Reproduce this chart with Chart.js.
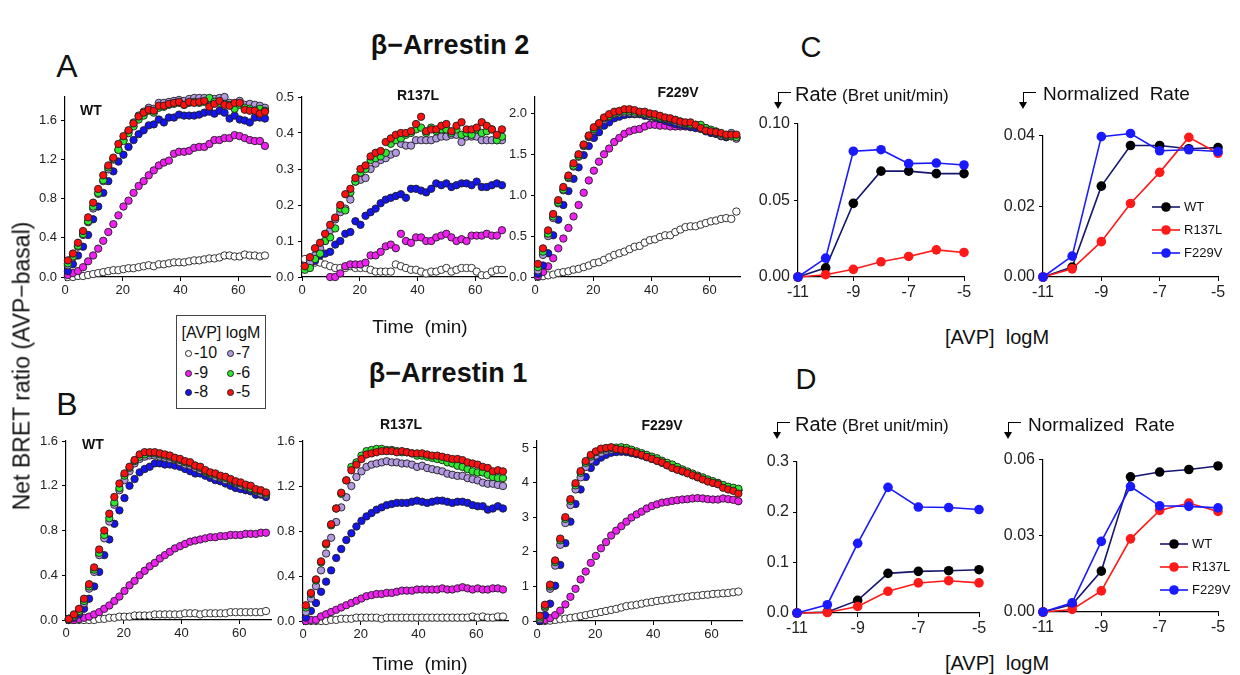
<!doctype html>
<html><head><meta charset="utf-8"><title>BRET time courses and rates</title>
<script src="https://cdn.jsdelivr.net/npm/chart.js@4.4.1/dist/chart.umd.min.js"></script>
<style>
body{margin:0;width:1240px;height:675px;position:relative;background:#fff;overflow:hidden;font-family:"Liberation Sans",Arial,sans-serif;color:#111}
canvas{position:absolute}
.t{position:absolute;white-space:nowrap;line-height:1}
.c{transform:translate(-50%,-50%)}
.arrow{position:absolute;border-left:1.5px solid #000;border-top:1.5px solid #000;width:12px;height:11px}
.arrow:after{content:"";position:absolute;left:-5px;top:9px;border-left:4px solid transparent;border-right:4px solid transparent;border-top:7px solid #000}
#avp{position:absolute;border:1px solid #444;background:#fff}
.dot{position:absolute;width:5px;height:5px;border-radius:50%;border:1px solid #222}
</style></head><body>
<script>
// time points (min), one reading every ~1.75 min
const times = [1,2.75,4.5,6.25,8,9.75,11.5,13.25,15,16.75,18.5,20.25,22,23.75,25.5,27.25,29,30.75,32.5,34.25,36,37.75,39.5,41.25,43,44.75,46.5,48.25,50,51.75,53.5,55.25,57,58.75,60.5,62.25,64,65.75,67.5,69.25];
const timeTicks = [0,20,40,60];

// beta-arrestin 2, WT
const a2WT_m5  = [0.17,0.24,0.35,0.47,0.61,0.76,0.90,1.04,1.14,1.22,1.36,1.44,1.50,1.57,1.64,1.68,1.71,1.70,1.75,1.75,1.77,1.78,1.79,1.76,1.79,1.78,1.79,1.80,1.74,1.77,1.80,1.76,1.75,1.78,1.78,1.71,1.70,1.70,1.67,1.69];
const a2WT_m6  = [0.14,0.21,0.32,0.44,0.57,0.72,0.86,0.99,1.12,1.21,1.30,1.39,1.47,1.54,1.61,1.65,1.70,1.68,1.73,1.74,1.76,1.77,1.78,1.76,1.78,1.79,1.78,1.79,1.83,1.79,1.78,1.77,1.76,1.72,1.76,1.73,1.72,1.70,1.72,1.70];
const a2WT_m7  = [0.12,0.20,0.31,0.43,0.56,0.70,0.85,0.98,1.10,1.20,1.30,1.40,1.49,1.58,1.65,1.69,1.73,1.72,1.78,1.78,1.79,1.80,1.81,1.80,1.82,1.83,1.83,1.83,1.82,1.82,1.83,1.84,1.78,1.77,1.80,1.76,1.77,1.76,1.75,1.73];
const a2WT_m8  = [0.06,0.13,0.22,0.31,0.43,0.59,0.72,0.86,0.98,1.08,1.18,1.25,1.33,1.40,1.46,1.50,1.55,1.56,1.61,1.58,1.63,1.63,1.66,1.65,1.65,1.65,1.66,1.68,1.69,1.67,1.70,1.68,1.62,1.65,1.61,1.60,1.58,1.63,1.63,1.62];
const a2WT_m9  = [0.02,0.04,0.06,0.10,0.16,0.22,0.29,0.37,0.46,0.54,0.63,0.72,0.78,0.86,0.93,0.98,1.04,1.09,1.14,1.17,1.19,1.26,1.28,1.28,1.29,1.32,1.33,1.33,1.36,1.40,1.40,1.42,1.42,1.45,1.44,1.42,1.40,1.39,1.39,1.34];
const a2WT_m10 = [0.00,0.00,0.01,0.01,0.02,0.03,0.04,0.05,0.06,0.07,0.07,0.08,0.09,0.09,0.10,0.11,0.12,0.11,0.13,0.13,0.14,0.15,0.15,0.15,0.16,0.17,0.17,0.18,0.19,0.19,0.20,0.22,0.22,0.21,0.21,0.23,0.22,0.22,0.21,0.22];

// beta-arrestin 2, R137L
const a2R_m5  = [0.03,0.055,0.08,0.095,0.12,0.145,0.165,0.20,0.23,0.245,0.275,0.30,0.31,0.335,0.345,0.35,0.375,0.385,0.395,0.40,0.40,0.405,0.425,0.445,0.405,0.41,0.41,0.42,0.425,0.405,0.42,0.43,0.41,0.41,0.415,0.43,0.42,0.41,0.395,0.41];
const a2R_m6  = [0.02,0.025,0.05,0.065,0.10,0.11,0.135,0.19,0.185,0.235,0.265,0.29,0.30,0.325,0.33,0.335,0.345,0.37,0.38,0.385,0.395,0.40,0.41,0.415,0.40,0.415,0.405,0.41,0.41,0.40,0.41,0.395,0.40,0.395,0.41,0.40,0.405,0.41,0.38,0.39];
const a2R_m7  = [0.03,0.04,0.06,0.08,0.10,0.13,0.16,0.18,0.19,0.215,0.265,0.27,0.275,0.30,0.315,0.325,0.33,0.34,0.345,0.37,0.365,0.365,0.38,0.38,0.38,0.38,0.385,0.39,0.39,0.395,0.395,0.375,0.39,0.39,0.39,0.38,0.38,0.38,0.38,0.38];
const a2R_m8  = [0.03,0.035,0.045,0.06,0.065,0.07,0.09,0.10,0.12,0.125,0.155,0.145,0.17,0.18,0.19,0.205,0.215,0.22,0.225,0.23,0.22,0.245,0.245,0.24,0.235,0.245,0.26,0.255,0.26,0.25,0.255,0.26,0.26,0.255,0.265,0.25,0.25,0.255,0.26,0.255];
const a2R_m9  = [null,null,null,null,null,0.0,0.0,0.01,0.03,0.035,0.035,0.035,0.04,0.06,0.06,0.07,0.085,0.09,0.08,0.12,0.10,0.095,0.11,0.11,0.10,0.10,0.11,0.115,0.12,0.11,0.10,0.105,0.10,0.115,0.115,0.115,0.12,0.115,0.115,0.13];
const a2R_m10 = [0.05,0.045,0.04,0.04,0.035,0.03,0.025,0.025,0.025,0.03,0.025,0.025,0.025,0.02,0.015,0.015,0.015,0.015,0.035,0.03,0.025,0.02,0.02,0.015,0.01,0.015,0.015,0.02,0.025,0.015,0.02,0.025,0.025,0.025,0.015,0.005,0.005,0.015,0.02,0.02];

// beta-arrestin 2, F229V
const a2F_m5  = [0.16,0.35,0.57,0.77,0.94,1.10,1.24,1.39,1.50,1.62,1.73,1.83,1.88,1.95,1.99,2.02,2.03,2.05,2.05,2.04,2.02,2.02,2.00,1.99,1.97,1.95,1.94,1.92,1.90,1.89,1.89,1.86,1.82,1.79,1.78,1.77,1.76,1.74,1.74,1.74];
const a2F_m6  = [0.12,0.31,0.53,0.74,0.91,1.07,1.22,1.36,1.48,1.61,1.72,1.81,1.87,1.94,1.97,2.00,2.02,2.03,2.03,2.02,2.01,2.00,1.99,1.97,1.95,1.94,1.93,1.92,1.90,1.88,1.87,1.86,1.86,1.82,1.80,1.78,1.75,1.73,1.72,1.71];
const a2F_m7  = [0.08,0.27,0.50,0.72,0.90,1.06,1.21,1.35,1.47,1.60,1.71,1.80,1.86,1.92,1.96,1.99,2.00,2.01,2.01,2.00,2.00,1.99,1.97,1.96,1.95,1.93,1.92,1.90,1.88,1.87,1.86,1.85,1.84,1.82,1.78,1.76,1.73,1.72,1.76,1.69];
const a2F_m8  = [0.04,0.14,0.29,0.51,0.70,0.88,1.05,1.20,1.34,1.49,1.60,1.70,1.77,1.85,1.89,1.94,1.96,1.98,1.99,1.99,1.99,1.97,1.96,1.95,1.93,1.91,1.89,1.87,1.86,1.85,1.84,1.82,1.81,1.78,1.76,1.75,1.73,1.71,1.73,1.71];
const a2F_m9  = [0.01,0.06,0.13,0.23,0.35,0.47,0.60,0.74,0.88,1.03,1.18,1.30,1.41,1.50,1.57,1.65,1.70,1.75,1.78,1.80,1.81,1.84,1.86,1.86,1.85,1.85,1.84,1.84,1.84,1.84,1.83,1.83,1.82,1.79,1.77,1.75,1.72,1.71,1.72,1.70];
const a2F_m10 = [0.00,0.01,0.02,0.03,0.05,0.06,0.07,0.09,0.10,0.12,0.14,0.17,0.18,0.21,0.24,0.27,0.29,0.31,0.34,0.37,0.38,0.42,0.45,0.46,0.49,0.51,0.51,0.55,0.58,0.61,0.62,0.62,0.64,0.66,0.68,0.69,0.71,0.72,0.71,0.80];

// beta-arrestin 1, WT
const a1WT_m5  = [0.01,0.05,0.10,0.19,0.32,0.47,0.63,0.80,0.95,1.10,1.22,1.31,1.37,1.43,1.48,1.50,1.50,1.50,1.49,1.48,1.47,1.45,1.44,1.42,1.41,1.38,1.37,1.34,1.32,1.31,1.29,1.28,1.26,1.24,1.23,1.21,1.20,1.17,1.16,1.14];
const a1WT_m6  = [0.01,0.04,0.08,0.17,0.30,0.45,0.60,0.76,0.91,1.05,1.18,1.29,1.36,1.42,1.46,1.48,1.49,1.49,1.48,1.47,1.46,1.44,1.43,1.41,1.40,1.38,1.36,1.33,1.31,1.30,1.28,1.27,1.25,1.23,1.22,1.20,1.18,1.16,1.15,1.13];
const a1WT_m7  = [0.01,0.03,0.07,0.15,0.28,0.43,0.58,0.73,0.88,1.03,1.16,1.25,1.33,1.40,1.44,1.46,1.47,1.47,1.46,1.45,1.44,1.43,1.41,1.39,1.38,1.36,1.34,1.32,1.30,1.28,1.27,1.25,1.24,1.22,1.20,1.19,1.17,1.15,1.13,1.12];
const a1WT_m8  = [0.01,0.02,0.05,0.10,0.19,0.30,0.43,0.58,0.72,0.86,0.98,1.09,1.20,1.26,1.32,1.35,1.37,1.40,1.40,1.39,1.39,1.38,1.37,1.35,1.33,1.31,1.31,1.29,1.27,1.25,1.24,1.22,1.20,1.18,1.17,1.16,1.15,1.12,1.12,1.10];
const a1WT_m9  = [0.00,0.00,0.01,0.02,0.03,0.05,0.07,0.10,0.13,0.17,0.21,0.26,0.31,0.35,0.40,0.44,0.48,0.51,0.55,0.58,0.61,0.64,0.66,0.68,0.70,0.71,0.72,0.73,0.74,0.74,0.75,0.75,0.76,0.76,0.76,0.77,0.77,0.77,0.78,0.78];
const a1WT_m10 = [0.00,0.00,0.00,0.00,0.00,0.00,0.01,0.01,0.02,0.02,0.03,0.03,0.03,0.04,0.04,0.04,0.04,0.05,0.05,0.05,0.05,0.05,0.05,0.06,0.06,0.06,0.05,0.06,0.06,0.06,0.06,0.06,0.07,0.07,0.07,0.07,0.07,0.07,0.07,0.08];

// beta-arrestin 1, R137L
const a1R_m5  = [0.14,0.25,0.37,0.53,0.69,0.86,1.00,1.14,1.25,1.34,1.39,1.44,1.48,1.49,1.50,1.51,1.51,1.51,1.50,1.51,1.50,1.49,1.49,1.49,1.48,1.47,1.47,1.46,1.45,1.44,1.44,1.43,1.41,1.40,1.39,1.37,1.36,1.33,1.34,1.33];
const a1R_m6  = [0.12,0.24,0.36,0.52,0.68,0.85,1.00,1.13,1.25,1.37,1.41,1.47,1.51,1.52,1.53,1.53,1.52,1.52,1.51,1.50,1.50,1.49,1.47,1.47,1.46,1.45,1.44,1.43,1.41,1.40,1.38,1.37,1.35,1.33,1.32,1.32,1.30,1.28,1.27,1.27];
const a1R_m7  = [0.08,0.20,0.31,0.45,0.60,0.74,0.88,1.01,1.10,1.20,1.28,1.33,1.37,1.39,1.40,1.41,1.42,1.41,1.41,1.40,1.40,1.39,1.37,1.38,1.36,1.35,1.34,1.33,1.31,1.30,1.29,1.29,1.27,1.26,1.25,1.23,1.22,1.22,1.21,1.20];
const a1R_m8  = [0.03,0.09,0.16,0.26,0.35,0.45,0.56,0.64,0.72,0.78,0.84,0.89,0.93,0.96,0.99,1.01,1.03,1.04,1.05,1.05,1.05,1.06,1.07,1.06,1.05,1.06,1.07,1.07,1.06,1.05,1.06,1.06,1.05,1.03,1.02,1.02,0.99,1.00,1.02,1.00];
const a1R_m9  = [0.00,0.01,0.01,0.04,0.06,0.08,0.10,0.12,0.14,0.16,0.18,0.20,0.22,0.23,0.24,0.24,0.25,0.25,0.26,0.27,0.27,0.27,0.28,0.28,0.28,0.28,0.28,0.29,0.28,0.28,0.29,0.30,0.29,0.28,0.29,0.28,0.28,0.29,0.29,0.28];
const a1R_m10 = [0.00,0.00,0.00,0.00,0.00,0.01,0.01,0.02,0.02,0.02,0.03,0.03,0.03,0.03,0.03,0.02,0.03,0.03,0.03,0.03,0.03,0.03,0.03,0.03,0.03,0.03,0.03,0.03,0.03,0.03,0.03,0.03,0.03,0.04,0.03,0.04,0.03,0.03,0.04,0.04];

// beta-arrestin 1, F229V
const a1F_m5  = [0.15,0.47,1.05,1.75,2.38,3.00,3.52,3.98,4.33,4.62,4.80,4.90,4.98,5.00,5.02,4.97,4.95,4.93,4.89,4.85,4.80,4.74,4.69,4.63,4.58,4.50,4.42,4.37,4.33,4.27,4.21,4.16,4.09,4.03,3.99,3.95,3.85,3.80,3.76,3.68];
const a1F_m6  = [0.10,0.42,1.00,1.70,2.33,2.95,3.47,3.92,4.28,4.57,4.75,4.88,4.95,4.98,5.00,5.01,5.02,5.00,4.95,4.90,4.85,4.80,4.75,4.70,4.63,4.57,4.52,4.45,4.38,4.32,4.26,4.20,4.15,4.09,4.04,3.99,3.93,3.88,3.85,3.82];
const a1F_m7  = [0.05,0.38,0.93,1.60,2.20,2.83,3.35,3.80,4.15,4.45,4.65,4.78,4.86,4.92,4.95,4.96,4.95,4.93,4.90,4.85,4.80,4.75,4.70,4.65,4.58,4.53,4.47,4.41,4.35,4.29,4.24,4.18,4.12,4.06,4.01,3.97,3.90,3.85,3.82,3.78];
const a1F_m8  = [0.00,0.17,0.50,1.02,1.62,2.25,2.87,3.38,3.80,4.16,4.42,4.60,4.72,4.80,4.86,4.88,4.89,4.88,4.85,4.82,4.78,4.73,4.68,4.63,4.57,4.50,4.44,4.38,4.32,4.27,4.21,4.15,4.10,4.05,4.00,3.96,3.90,3.86,3.82,3.78];
const a1F_m9  = [0.00,0.03,0.08,0.17,0.30,0.48,0.70,0.93,1.20,1.43,1.68,1.88,2.10,2.28,2.47,2.61,2.74,2.87,2.99,3.08,3.16,3.25,3.32,3.37,3.42,3.44,3.47,3.49,3.51,3.52,3.54,3.55,3.54,3.52,3.51,3.51,3.54,3.52,3.50,3.46];
const a1F_m10 = [0.00,0.00,0.01,0.03,0.05,0.07,0.09,0.11,0.14,0.17,0.20,0.23,0.26,0.29,0.32,0.35,0.39,0.43,0.45,0.47,0.50,0.53,0.55,0.58,0.60,0.62,0.64,0.66,0.68,0.70,0.72,0.73,0.75,0.76,0.78,0.79,0.80,0.81,0.83,0.85];

// dose-response: [AVP] logM
const doses = [-11,-10,-9,-8,-7,-6,-5];
const doseTicks = [-11,-9,-7,-5];
const cRate_WT    = [0,0.006,0.048,0.069,0.069,0.0674,0.0674];
const cRate_R137L = [0,0.0015,0.005,0.0099,0.0134,0.0177,0.016];
const cRate_F229V = [0,0.0123,0.082,0.083,0.0739,0.0743,0.073];
const cNorm_WT    = [0,0.0028,0.0257,0.0372,0.0372,0.0363,0.0366];
const cNorm_R137L = [0,0.0023,0.010,0.0208,0.0296,0.0395,0.035];
const cNorm_F229V = [0,0.0059,0.0397,0.0406,0.0357,0.036,0.0355];
const dRate_WT    = [0,0.002,0.025,0.0786,0.0825,0.0838,0.0858];
const dRate_R137L = [0,0.001,0.013,0.043,0.0596,0.064,0.0596];
const dRate_F229V = [0,0.0164,0.138,0.249,0.210,0.209,0.205];
const dNorm_WT    = [0,0.0029,0.0161,0.0532,0.0551,0.0561,0.0575];
const dNorm_R137L = [0,0.001,0.0083,0.0288,0.040,0.0429,0.0396];
const dNorm_F229V = [0,0.0036,0.0278,0.0494,0.0418,0.0416,0.041];

const doseColors = ['#ff1010','#2ee82e','#b399e0','#1414f0','#f020f0','#ffffff']; // -5 .. -10
const mutColors = { WT: '#000000', R137L: '#ff1a1a', F229V: '#1a1aff' };
const mutLine = { WT: '#16166e', R137L: '#ff1a1a', F229V: '#1a1aff' };

const PAD_L = 52, PAD_R = 14, PAD_T = 12, PAD_B = 32;
Chart.defaults.font.family = '"Liberation Sans", Arial, sans-serif';
Chart.defaults.animation = false;

function makeCanvas(g) {
  const c = document.createElement('canvas');
  const W = (g.r - g.l) + PAD_L + PAD_R, H = (g.b - g.t) + PAD_T + PAD_B;
  c.width = W; c.height = H;
  c.style.left = (g.l - PAD_L) + 'px'; c.style.top = (g.t - PAD_T) + 'px';
  c.style.width = W + 'px'; c.style.height = H + 'px';
  document.body.appendChild(c);
  return c;
}

function axis(min, max, ticks, dec, isX, fs) {
  return {
    type: 'linear', min, max,
    afterBuildTicks: s => { s.ticks = ticks.map(v => ({ value: v })); },
    afterFit: s => { if (isX) s.height = PAD_B; else s.width = PAD_L; },
    grid: { drawOnChartArea: false, drawTicks: true, tickLength: 4, color: '#000', lineWidth: 1 },
    border: { display: true, color: '#000', width: 1.2 },
    ticks: { font: { size: fs }, color: '#222', padding: isX ? 2 : 4, maxRotation: 0, autoSkip: false,
             callback: v => v.toFixed(dec) }
  };
}

function timeChart(g, xMax, yMax, yTicks, yDec, series) {
  const datasets = series.map((vals, k) => ({
    data: times.map((t, i) => ({ x: t, y: vals[i] })).filter(p => p.y !== null),
    backgroundColor: doseColors[k], borderColor: '#1e1e1e', borderWidth: 0.9,
    pointRadius: 3.7, clip: false
  }));
  new Chart(makeCanvas(g), {
    type: 'scatter',
    data: { datasets },
    options: {
      responsive: false, devicePixelRatio: 1,
      layout: { padding: { left: 0, right: PAD_R, top: PAD_T, bottom: 0 } },
      plugins: { legend: { display: false }, tooltip: { enabled: false } },
      scales: { x: axis(0, xMax, timeTicks, 0, true, 13), y: axis(0, yMax, yTicks, yDec, false, 13) }
    }
  });
}

function legendPlugin(g, lg) {
  return {
    id: 'inLegend',
    afterDatasetsDraw(chart) {
      const ctx = chart.ctx, ox = g.l - PAD_L, oy = g.t - PAD_T;
      ['WT', 'R137L', 'F229V'].forEach((name, i) => {
        const y = lg.y[i] - oy;
        ctx.save();
        ctx.strokeStyle = mutLine[name]; ctx.lineWidth = 1.6;
        ctx.beginPath(); ctx.moveTo(lg.x1 - ox, y); ctx.lineTo(lg.x2 - ox, y); ctx.stroke();
        ctx.fillStyle = mutColors[name];
        ctx.beginPath(); ctx.arc((lg.x1 + lg.x2) / 2 - ox, y, 4.8, 0, Math.PI * 2); ctx.fill();
        ctx.fillStyle = '#111'; ctx.font = '13px "Liberation Sans", Arial, sans-serif';
        ctx.textBaseline = 'middle';
        ctx.fillText(name, lg.tx - ox, y + 0.5);
        ctx.restore();
      });
    }
  };
}

function doseChart(g, yMax, yTicks, yDec, wt, r137, f229, lg) {
  const mk = (name, vals) => ({
    data: doses.map((d, i) => ({ x: d, y: vals[i] })),
    showLine: true, borderColor: mutLine[name], borderWidth: 1.6,
    backgroundColor: mutColors[name], pointBorderWidth: 0, pointRadius: 4.8, clip: false
  });
  new Chart(makeCanvas(g), {
    type: 'scatter',
    data: { datasets: [mk('F229V', f229), mk('R137L', r137), mk('WT', wt)] },
    options: {
      responsive: false, devicePixelRatio: 1,
      layout: { padding: { left: 0, right: PAD_R, top: PAD_T, bottom: 0 } },
      plugins: { legend: { display: false }, tooltip: { enabled: false } },
      scales: { x: axis(-11, -5, doseTicks, 0, true, 16), y: axis(0, yMax, yTicks, yDec, false, 16) }
    },
    plugins: lg ? [legendPlugin(g, lg)] : []
  });
}

// beta-arrestin 2 row
timeChart({ l: 65, r: 270, t: 97, b: 277 }, 71, 1.84, [0, 0.4, 0.8, 1.2, 1.6], 1,
  [a2WT_m5, a2WT_m6, a2WT_m7, a2WT_m8, a2WT_m9, a2WT_m10]);
timeChart({ l: 302, r: 507, t: 97, b: 277 }, 71, 0.5, [0, 0.1, 0.2, 0.3, 0.4, 0.5], 1,
  [a2R_m5, a2R_m6, a2R_m7, a2R_m8, a2R_m9, a2R_m10]);
timeChart({ l: 535, r: 740, t: 97, b: 277 }, 70.5, 2.2, [0, 0.5, 1.0, 1.5, 2.0], 1,
  [a2F_m5, a2F_m6, a2F_m7, a2F_m8, a2F_m9, a2F_m10]);
// beta-arrestin 1 row
timeChart({ l: 66, r: 271, t: 441, b: 620 }, 71, 1.6, [0, 0.4, 0.8, 1.2, 1.6], 1,
  [a1WT_m5, a1WT_m6, a1WT_m7, a1WT_m8, a1WT_m9, a1WT_m10]);
timeChart({ l: 303, r: 508, t: 441, b: 621 }, 71, 1.6, [0, 0.4, 0.8, 1.2, 1.6], 1,
  [a1R_m5, a1R_m6, a1R_m7, a1R_m8, a1R_m9, a1R_m10]);
timeChart({ l: 537, r: 742, t: 441, b: 621 }, 70.5, 5.2, [0, 1, 2, 3, 4, 5], 0,
  [a1F_m5, a1F_m6, a1F_m7, a1F_m8, a1F_m9, a1F_m10]);

// rates
doseChart({ l: 798, r: 964, t: 122, b: 277 }, 0.1, [0, 0.05, 0.1], 2, cRate_WT, cRate_R137L, cRate_F229V);
doseChart({ l: 1043, r: 1218, t: 134, b: 277 }, 0.04, [0, 0.02, 0.04], 2, cNorm_WT, cNorm_R137L, cNorm_F229V,
  { x1: 1152, x2: 1180, tx: 1184, y: [207, 230, 253] });
doseChart({ l: 797, r: 979, t: 460, b: 613 }, 0.3, [0, 0.1, 0.2, 0.3], 1, dRate_WT, dRate_R137L, dRate_F229V);
doseChart({ l: 1043, r: 1218, t: 458, b: 612 }, 0.06, [0, 0.03, 0.06], 2, dNorm_WT, dNorm_R137L, dNorm_F229V,
  { x1: 1160, x2: 1188, tx: 1192, y: [544, 567, 590] });

// text
function txt(s, x, y, css, center) {
  const d = document.createElement('div');
  d.className = 't' + (center ? ' c' : '');
  d.textContent = s;
  d.style.cssText += 'left:' + x + 'px;top:' + y + 'px;' + (css || '');
  document.body.appendChild(d);
  return d;
}
function arrow(x, y) {
  const d = document.createElement('div');
  d.className = 'arrow';
  d.style.left = x + 'px'; d.style.top = y + 'px';
  document.body.appendChild(d);
}

txt('\u03b2\u2212Arrestin 2', 450, 45, 'font-size:27px;font-weight:bold', true);
txt('\u03b2\u2212Arrestin 1', 448, 373, 'font-size:27px;font-weight:bold', true);
txt('A', 67, 66, 'font-size:32px', true);
txt('B', 67, 404, 'font-size:32px', true);
txt('C', 811, 47, 'font-size:29px', true);
txt('D', 806, 379, 'font-size:29px', true);
txt('Net BRET ratio (AVP\u2212basal)', 22, 366, 'font-size:23px;transform:translate(-50%,-50%) rotate(-90deg)', false);
txt('Time  (min)', 420, 326, 'font-size:19px;white-space:pre', true);
txt('Time  (min)', 420, 663, 'font-size:19px;white-space:pre', true);
txt('[AVP]  logM', 997, 337, 'font-size:20px;white-space:pre', true);
txt('[AVP]  logM', 997, 663, 'font-size:20px;white-space:pre', true);

txt('WT', 91, 110, 'font-size:14px;font-weight:bold', true);
txt('R137L', 418, 95, 'font-size:14px;font-weight:bold', true);
txt('F229V', 678, 92, 'font-size:14px;font-weight:bold', true);
txt('WT', 93, 444, 'font-size:14px;font-weight:bold', true);
txt('R137L', 401, 424, 'font-size:14px;font-weight:bold', true);
txt('F229V', 662, 425, 'font-size:14px;font-weight:bold', true);

arrow(778, 92);
txt('Rate', 795, 94, 'font-size:20px;transform:translateY(-50%)');
txt('(Bret unit/min)', 842, 95, 'font-size:17px;transform:translateY(-50%)');
arrow(1023, 92);
txt('Normalized  Rate', 1043, 93, 'font-size:19px;white-space:pre;transform:translateY(-50%)');
arrow(777, 422);
txt('Rate', 795, 424, 'font-size:20px;transform:translateY(-50%)');
txt('(Bret unit/min)', 842, 425, 'font-size:17px;transform:translateY(-50%)');
arrow(1008, 422);
txt('Normalized  Rate', 1028, 424, 'font-size:19px;white-space:pre;transform:translateY(-50%)');

// concentration key
const box = document.createElement('div');
box.id = 'avp';
box.style.cssText = 'left:176px;top:315px;width:88px;height:92px';
document.body.appendChild(box);
txt('[AVP] logM', 221, 333, 'font-size:16px', true);
const keyRows = [['-10', '-7'], ['-9', '-6'], ['-8', '-5']];
const keyCol = [['#ffffff', '#b399e0'], ['#f020f0', '#2ee82e'], ['#1414f0', '#ff1010']];
keyRows.forEach((row, r) => {
  row.forEach((lab, c) => {
    const x = c === 0 ? 188 : 230, y = 353 + r * 19.5;
    const d = document.createElement('div');
    d.className = 'dot';
    d.style.cssText += 'left:' + (x - 3) + 'px;top:' + (y - 3) + 'px;background:' + keyCol[r][c];
    document.body.appendChild(d);
    txt(lab, x + 6, y, 'font-size:16px;transform:translateY(-50%)');
  });
});
</script>
</body></html>
